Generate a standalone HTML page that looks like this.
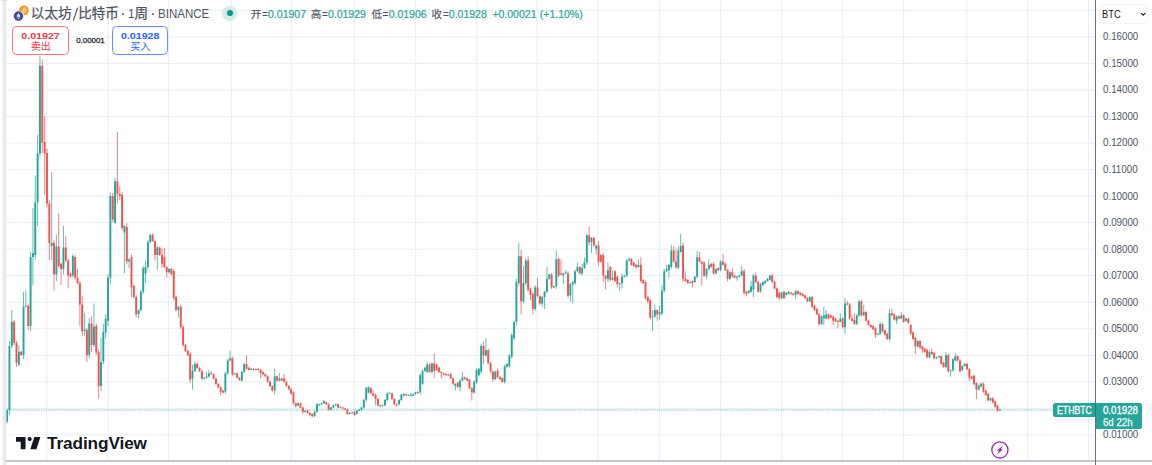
<!DOCTYPE html>
<html lang="zh-CN">
<head>
<meta charset="utf-8">
<title>ETHBTC · 1W · BINANCE — TradingView</title>
<style>
html,body{margin:0;padding:0;background:#fff;overflow:hidden;}
body{width:1152px;height:465px;position:relative;overflow:hidden;font-family:"Liberation Sans","Noto Sans CJK SC",sans-serif;color:#131722;}
#chart{position:absolute;left:0;top:0;}
.abs{position:absolute;white-space:nowrap;}
.cjt{font-family:"Liberation Sans","Noto Sans CJK SC",sans-serif;}
.lborder{left:2.1px;top:0;width:4.6px;height:465px;background:linear-gradient(to right,rgba(234,234,236,0),#eaeaec 28%,#eaeaec 72%,rgba(234,234,236,0));}
.bborder{left:6px;top:459.7px;width:1146px;height:2.8px;background:linear-gradient(to bottom,rgba(172,175,184,0),#acafb8 35%,#acafb8 65%,rgba(172,175,184,0));}
.axisline{left:1095.1px;top:0;width:1.1px;height:465px;background:#6c6f7a;}
.axisbg{left:1096.2px;top:0;width:56px;height:460px;background:#fff;}
.pl{position:absolute;left:1102.6px;font-size:10.4px;line-height:13px;color:#50535e;transform:scaleX(0.94);transform-origin:0 50%;white-space:nowrap;}
.tl{height:16px;line-height:16px;font-size:12.8px;color:#50535e;}
.tl .cjt{display:block;-webkit-text-stroke:0.25px #50535e;}
.lat{transform-origin:0 50%;}
.dot{width:2px;height:2px;border-radius:50%;background:#50535e;}
.ohlc{top:6.7px;height:14px;line-height:14px;font-size:10.5px;color:#50535e;}
.ohlc .cjt{font-size:10.6px;margin-right:0.5px;-webkit-text-stroke:0.15px #50535e;}
.ohlc b{font-weight:normal;color:#26a69a;-webkit-text-stroke:0.2px #26a69a;}
.box{box-sizing:border-box;border:1.2px solid;border-radius:4.5px;background:#fff;text-align:center;}
.box .v{font-weight:bold;font-size:9.6px;line-height:11px;margin-top:2.5px;transform:scaleX(1.11);}
.box .t{margin-top:1.3px;height:10px;font-size:10px;line-height:10px;}
.tag{background:#26a69a;color:#fff;font-size:10.2px;}
</style>
</head>
<body>
<svg id="chart" width="1152" height="465" viewBox="0 0 1152 465">
<g stroke="#e8eef4" stroke-width="1" shape-rendering="auto">
<line x1="46.9" y1="0" x2="46.9" y2="460.5"/>
<line x1="108.2" y1="0" x2="108.2" y2="460.5"/>
<line x1="168.4" y1="0" x2="168.4" y2="460.5"/>
<line x1="231.3" y1="0" x2="231.3" y2="460.5"/>
<line x1="291.3" y1="0" x2="291.3" y2="460.5"/>
<line x1="354.6" y1="0" x2="354.6" y2="460.5"/>
<line x1="415.7" y1="0" x2="415.7" y2="460.5"/>
<line x1="476.8" y1="0" x2="476.8" y2="460.5"/>
<line x1="537.0" y1="0" x2="537.0" y2="460.5"/>
<line x1="598.0" y1="0" x2="598.0" y2="460.5"/>
<line x1="659.3" y1="0" x2="659.3" y2="460.5"/>
<line x1="720.7" y1="0" x2="720.7" y2="460.5"/>
<line x1="781.8" y1="0" x2="781.8" y2="460.5"/>
<line x1="842.7" y1="0" x2="842.7" y2="460.5"/>
<line x1="903.6" y1="0" x2="903.6" y2="460.5"/>
<line x1="966.8" y1="0" x2="966.8" y2="460.5"/>
<line x1="1027.7" y1="0" x2="1027.7" y2="460.5"/>
<line x1="1088.6" y1="0" x2="1088.6" y2="460.5"/>
<line x1="6" y1="434.89" x2="1095" y2="434.89"/>
<line x1="6" y1="408.36" x2="1095" y2="408.36"/>
<line x1="6" y1="381.83" x2="1095" y2="381.83"/>
<line x1="6" y1="355.30" x2="1095" y2="355.30"/>
<line x1="6" y1="328.77" x2="1095" y2="328.77"/>
<line x1="6" y1="302.24" x2="1095" y2="302.24"/>
<line x1="6" y1="275.71" x2="1095" y2="275.71"/>
<line x1="6" y1="249.18" x2="1095" y2="249.18"/>
<line x1="6" y1="222.65" x2="1095" y2="222.65"/>
<line x1="6" y1="196.12" x2="1095" y2="196.12"/>
<line x1="6" y1="169.59" x2="1095" y2="169.59"/>
<line x1="6" y1="143.06" x2="1095" y2="143.06"/>
<line x1="6" y1="116.53" x2="1095" y2="116.53"/>
<line x1="6" y1="90.00" x2="1095" y2="90.00"/>
<line x1="6" y1="63.47" x2="1095" y2="63.47"/>
<line x1="6" y1="36.94" x2="1095" y2="36.94"/>
<line x1="6" y1="10.41" x2="1095" y2="10.41"/>
</g>
<line x1="6" y1="410.00" x2="1053" y2="410.00" stroke="#26a69a" stroke-width="1.2" opacity="0.16"/>
<line x1="6" y1="410.00" x2="1053" y2="410.00" stroke="#26a69a" stroke-width="1.1" stroke-dasharray="1.17 1.17" opacity="0.45"/>
<g stroke-width="0.9" opacity="0.8" fill="none"><path d="M7.10 408.6V423.2" stroke="#26a69a"/><path d="M9.45 340.9V415.1" stroke="#26a69a"/><path d="M11.79 310.0V348.3" stroke="#26a69a"/><path d="M14.14 319.7V345.1" stroke="#ef5350"/><path d="M16.49 341.0V367.0" stroke="#ef5350"/><path d="M18.84 345.4V366.2" stroke="#26a69a"/><path d="M21.18 351.0V355.8" stroke="#ef5350"/><path d="M23.53 292.0V359.0" stroke="#26a69a"/><path d="M25.88 290.6V307.4" stroke="#26a69a"/><path d="M28.22 303.7V330.0" stroke="#ef5350"/><path d="M30.57 251.6V331.4" stroke="#26a69a"/><path d="M32.92 207.8V285.0" stroke="#26a69a"/><path d="M35.26 175.5V259.3" stroke="#26a69a"/><path d="M37.61 134.7V226.0" stroke="#26a69a"/><path d="M39.96 56.1V156.7" stroke="#26a69a"/><path d="M42.30 59.4V153.0" stroke="#ef5350"/><path d="M44.65 116.4V195.0" stroke="#ef5350"/><path d="M47.00 148.9V207.6" stroke="#ef5350"/><path d="M49.35 200.1V260.0" stroke="#ef5350"/><path d="M51.69 172.0V260.0" stroke="#26a69a"/><path d="M54.04 240.2V290.6" stroke="#ef5350"/><path d="M56.39 234.7V281.0" stroke="#26a69a"/><path d="M58.73 213.0V268.0" stroke="#ef5350"/><path d="M61.08 262.7V285.2" stroke="#ef5350"/><path d="M63.43 226.0V274.4" stroke="#26a69a"/><path d="M65.77 236.0V262.0" stroke="#ef5350"/><path d="M68.12 258.9V288.4" stroke="#ef5350"/><path d="M70.47 272.6V277.4" stroke="#ef5350"/><path d="M72.82 254.0V277.5" stroke="#26a69a"/><path d="M75.16 255.0V279.7" stroke="#ef5350"/><path d="M77.51 269.0V284.0" stroke="#ef5350"/><path d="M79.86 280.9V326.0" stroke="#ef5350"/><path d="M82.20 296.0V336.4" stroke="#ef5350"/><path d="M84.55 312.7V335.8" stroke="#26a69a"/><path d="M86.90 327.6V362.0" stroke="#ef5350"/><path d="M89.24 318.0V358.4" stroke="#26a69a"/><path d="M91.59 316.0V352.0" stroke="#ef5350"/><path d="M93.94 303.5V346.9" stroke="#26a69a"/><path d="M96.29 323.5V355.0" stroke="#ef5350"/><path d="M98.63 349.0V399.2" stroke="#ef5350"/><path d="M100.98 338.0V391.0" stroke="#26a69a"/><path d="M103.33 324.0V364.2" stroke="#26a69a"/><path d="M105.67 314.3V338.5" stroke="#26a69a"/><path d="M108.02 274.1V326.0" stroke="#26a69a"/><path d="M110.37 192.7V284.0" stroke="#26a69a"/><path d="M112.71 193.0V222.0" stroke="#ef5350"/><path d="M115.06 177.8V224.0" stroke="#26a69a"/><path d="M117.41 132.0V203.5" stroke="#ef5350"/><path d="M119.76 186.0V200.0" stroke="#ef5350"/><path d="M122.10 192.1V230.9" stroke="#ef5350"/><path d="M124.45 224.9V273.4" stroke="#26a69a"/><path d="M126.80 222.9V264.5" stroke="#ef5350"/><path d="M129.14 258.7V268.0" stroke="#26a69a"/><path d="M131.49 254.3V297.0" stroke="#ef5350"/><path d="M133.84 284.6V298.4" stroke="#ef5350"/><path d="M136.19 295.2V317.5" stroke="#ef5350"/><path d="M138.53 309.1V318.6" stroke="#26a69a"/><path d="M140.88 289.8V311.9" stroke="#26a69a"/><path d="M143.23 265.7V294.0" stroke="#26a69a"/><path d="M145.57 260.5V283.0" stroke="#26a69a"/><path d="M147.92 239.9V269.3" stroke="#26a69a"/><path d="M150.27 233.6V243.3" stroke="#26a69a"/><path d="M152.61 233.6V242.0" stroke="#ef5350"/><path d="M154.96 239.4V260.5" stroke="#ef5350"/><path d="M157.31 246.0V270.0" stroke="#26a69a"/><path d="M159.66 246.4V256.1" stroke="#ef5350"/><path d="M162.00 248.6V268.0" stroke="#ef5350"/><path d="M164.35 248.0V268.3" stroke="#ef5350"/><path d="M166.70 266.0V277.7" stroke="#ef5350"/><path d="M169.04 268.2V273.1" stroke="#26a69a"/><path d="M171.39 268.0V275.4" stroke="#ef5350"/><path d="M173.74 268.5V300.5" stroke="#ef5350"/><path d="M176.08 295.5V311.5" stroke="#ef5350"/><path d="M178.43 305.9V317.5" stroke="#26a69a"/><path d="M180.78 304.7V329.0" stroke="#ef5350"/><path d="M183.12 325.1V346.9" stroke="#ef5350"/><path d="M185.47 344.0V352.0" stroke="#ef5350"/><path d="M187.82 349.9V355.9" stroke="#ef5350"/><path d="M190.17 351.6V383.0" stroke="#ef5350"/><path d="M192.51 365.0V389.5" stroke="#26a69a"/><path d="M194.86 361.5V372.1" stroke="#26a69a"/><path d="M197.21 362.8V368.9" stroke="#ef5350"/><path d="M199.55 367.2V372.0" stroke="#ef5350"/><path d="M201.90 370.1V379.8" stroke="#ef5350"/><path d="M204.25 377.0V379.4" stroke="#26a69a"/><path d="M206.59 372.0V378.4" stroke="#26a69a"/><path d="M208.94 370.0V377.4" stroke="#26a69a"/><path d="M211.29 371.0V375.1" stroke="#ef5350"/><path d="M213.64 373.5V379.6" stroke="#ef5350"/><path d="M215.98 377.7V385.0" stroke="#ef5350"/><path d="M218.33 383.2V388.2" stroke="#ef5350"/><path d="M220.68 386.5V395.5" stroke="#ef5350"/><path d="M223.02 389.9V393.4" stroke="#ef5350"/><path d="M225.37 371.5V393.6" stroke="#26a69a"/><path d="M227.72 359.0V374.9" stroke="#26a69a"/><path d="M230.06 350.8V361.3" stroke="#26a69a"/><path d="M232.41 356.6V376.1" stroke="#ef5350"/><path d="M234.76 372.7V375.1" stroke="#26a69a"/><path d="M237.11 372.5V378.6" stroke="#ef5350"/><path d="M239.45 377.0V381.0" stroke="#ef5350"/><path d="M241.80 370.8V381.8" stroke="#26a69a"/><path d="M244.15 362.9V373.1" stroke="#26a69a"/><path d="M246.49 355.4V369.7" stroke="#ef5350"/><path d="M248.84 366.9V370.6" stroke="#ef5350"/><path d="M251.19 368.1V370.5" stroke="#26a69a"/><path d="M253.53 368.1V370.5" stroke="#ef5350"/><path d="M255.88 368.5V370.5" stroke="#26a69a"/><path d="M258.23 368.1V370.5" stroke="#ef5350"/><path d="M260.58 369.0V378.4" stroke="#ef5350"/><path d="M262.92 371.2V374.9" stroke="#ef5350"/><path d="M265.27 373.4V377.0" stroke="#ef5350"/><path d="M267.62 375.3V382.6" stroke="#ef5350"/><path d="M269.96 380.8V386.9" stroke="#ef5350"/><path d="M272.31 385.1V392.4" stroke="#ef5350"/><path d="M274.66 368.8V394.6" stroke="#26a69a"/><path d="M277.00 375.4V381.5" stroke="#ef5350"/><path d="M279.35 373.1V381.3" stroke="#26a69a"/><path d="M281.70 377.7V381.3" stroke="#ef5350"/><path d="M284.05 374.1V382.5" stroke="#ef5350"/><path d="M286.39 380.8V386.9" stroke="#ef5350"/><path d="M288.74 385.1V390.0" stroke="#ef5350"/><path d="M291.09 388.3V394.4" stroke="#ef5350"/><path d="M293.43 391.1V404.6" stroke="#ef5350"/><path d="M295.78 402.4V407.3" stroke="#ef5350"/><path d="M298.13 402.4V406.1" stroke="#26a69a"/><path d="M300.48 402.3V408.4" stroke="#ef5350"/><path d="M302.82 406.6V414.2" stroke="#ef5350"/><path d="M305.17 410.1V412.5" stroke="#26a69a"/><path d="M307.52 410.0V413.6" stroke="#ef5350"/><path d="M309.86 412.1V415.8" stroke="#ef5350"/><path d="M312.21 413.2V417.8" stroke="#ef5350"/><path d="M314.56 410.9V417.0" stroke="#26a69a"/><path d="M316.90 403.1V412.9" stroke="#26a69a"/><path d="M319.25 403.6V406.0" stroke="#26a69a"/><path d="M321.60 402.5V404.9" stroke="#26a69a"/><path d="M323.94 400.0V403.9" stroke="#26a69a"/><path d="M326.29 401.4V405.0" stroke="#ef5350"/><path d="M328.64 403.3V410.6" stroke="#ef5350"/><path d="M330.99 406.8V410.4" stroke="#26a69a"/><path d="M333.33 404.6V408.3" stroke="#26a69a"/><path d="M335.68 403.6V406.0" stroke="#26a69a"/><path d="M338.03 403.4V408.3" stroke="#ef5350"/><path d="M340.37 406.4V408.1" stroke="#26a69a"/><path d="M342.72 406.8V409.3" stroke="#ef5350"/><path d="M345.07 407.9V410.3" stroke="#ef5350"/><path d="M347.42 408.8V414.9" stroke="#ef5350"/><path d="M349.76 412.2V414.6" stroke="#26a69a"/><path d="M352.11 411.8V413.5" stroke="#26a69a"/><path d="M354.46 411.0V415.9" stroke="#ef5350"/><path d="M356.80 409.9V414.8" stroke="#26a69a"/><path d="M359.15 409.0V411.4" stroke="#26a69a"/><path d="M361.50 406.8V410.4" stroke="#26a69a"/><path d="M363.84 398.8V408.6" stroke="#26a69a"/><path d="M366.19 386.7V401.4" stroke="#26a69a"/><path d="M368.54 386.4V393.4" stroke="#26a69a"/><path d="M370.88 387.2V394.5" stroke="#ef5350"/><path d="M373.23 390.3V396.4" stroke="#ef5350"/><path d="M375.58 393.7V405.3" stroke="#ef5350"/><path d="M377.93 397.8V406.4" stroke="#ef5350"/><path d="M380.27 404.7V407.1" stroke="#26a69a"/><path d="M382.62 404.7V406.4" stroke="#ef5350"/><path d="M384.97 399.0V406.3" stroke="#26a69a"/><path d="M387.31 392.5V401.0" stroke="#26a69a"/><path d="M389.66 392.4V394.1" stroke="#26a69a"/><path d="M392.01 392.5V399.9" stroke="#ef5350"/><path d="M394.36 397.9V405.3" stroke="#ef5350"/><path d="M396.70 403.6V406.4" stroke="#ef5350"/><path d="M399.05 399.1V405.2" stroke="#26a69a"/><path d="M401.40 393.5V400.9" stroke="#26a69a"/><path d="M403.74 393.4V396.4" stroke="#26a69a"/><path d="M406.09 393.5V395.9" stroke="#ef5350"/><path d="M408.44 394.6V396.3" stroke="#26a69a"/><path d="M410.78 392.9V396.3" stroke="#26a69a"/><path d="M413.13 393.4V396.4" stroke="#26a69a"/><path d="M415.48 391.7V394.9" stroke="#26a69a"/><path d="M417.83 391.3V393.5" stroke="#ef5350"/><path d="M420.17 373.4V394.2" stroke="#26a69a"/><path d="M422.52 369.4V384.9" stroke="#26a69a"/><path d="M424.87 366.8V371.7" stroke="#26a69a"/><path d="M427.21 361.9V373.1" stroke="#26a69a"/><path d="M429.56 363.3V373.1" stroke="#ef5350"/><path d="M431.91 362.2V373.2" stroke="#26a69a"/><path d="M434.25 353.3V377.8" stroke="#ef5350"/><path d="M436.60 363.5V370.8" stroke="#ef5350"/><path d="M438.95 366.8V372.9" stroke="#ef5350"/><path d="M441.30 371.3V378.4" stroke="#ef5350"/><path d="M443.64 372.4V375.3" stroke="#ef5350"/><path d="M445.99 373.5V375.9" stroke="#ef5350"/><path d="M448.34 373.9V375.9" stroke="#26a69a"/><path d="M450.68 373.2V379.3" stroke="#ef5350"/><path d="M453.03 377.5V384.8" stroke="#ef5350"/><path d="M455.38 383.1V390.3" stroke="#26a69a"/><path d="M457.72 381.8V388.0" stroke="#ef5350"/><path d="M460.07 379.5V391.4" stroke="#26a69a"/><path d="M462.42 372.0V381.4" stroke="#26a69a"/><path d="M464.77 376.6V379.8" stroke="#ef5350"/><path d="M467.11 377.7V381.3" stroke="#ef5350"/><path d="M469.46 378.8V389.3" stroke="#ef5350"/><path d="M471.81 387.2V400.6" stroke="#ef5350"/><path d="M474.15 380.3V393.8" stroke="#26a69a"/><path d="M476.50 368.3V384.2" stroke="#26a69a"/><path d="M478.85 367.7V376.3" stroke="#26a69a"/><path d="M481.19 343.4V374.1" stroke="#26a69a"/><path d="M483.54 341.5V364.1" stroke="#ef5350"/><path d="M485.89 338.3V356.5" stroke="#26a69a"/><path d="M488.24 348.6V364.6" stroke="#ef5350"/><path d="M490.58 361.9V372.9" stroke="#ef5350"/><path d="M492.93 370.5V381.4" stroke="#ef5350"/><path d="M495.28 370.5V380.3" stroke="#26a69a"/><path d="M497.62 368.4V378.1" stroke="#ef5350"/><path d="M499.97 376.3V380.0" stroke="#ef5350"/><path d="M502.32 377.3V382.9" stroke="#ef5350"/><path d="M504.66 364.6V383.7" stroke="#26a69a"/><path d="M507.01 363.3V367.7" stroke="#26a69a"/><path d="M509.36 354.2V367.6" stroke="#26a69a"/><path d="M511.71 333.0V358.7" stroke="#26a69a"/><path d="M514.05 320.4V340.0" stroke="#26a69a"/><path d="M516.40 278.7V325.3" stroke="#26a69a"/><path d="M518.75 243.3V285.6" stroke="#26a69a"/><path d="M521.09 249.8V314.3" stroke="#ef5350"/><path d="M523.44 265.9V303.3" stroke="#26a69a"/><path d="M525.79 258.3V285.3" stroke="#26a69a"/><path d="M528.13 256.2V292.2" stroke="#ef5350"/><path d="M530.48 287.5V300.3" stroke="#ef5350"/><path d="M532.83 292.2V314.3" stroke="#ef5350"/><path d="M535.18 285.3V311.1" stroke="#26a69a"/><path d="M537.52 277.7V297.2" stroke="#ef5350"/><path d="M539.87 294.9V304.7" stroke="#ef5350"/><path d="M542.22 296.1V306.8" stroke="#26a69a"/><path d="M544.56 290.8V309.0" stroke="#26a69a"/><path d="M546.91 267.0V293.2" stroke="#26a69a"/><path d="M549.26 273.6V279.7" stroke="#26a69a"/><path d="M551.60 273.0V288.9" stroke="#ef5350"/><path d="M553.95 285.7V288.1" stroke="#26a69a"/><path d="M556.30 250.4V288.9" stroke="#26a69a"/><path d="M558.64 257.3V277.4" stroke="#ef5350"/><path d="M560.99 259.4V275.2" stroke="#ef5350"/><path d="M563.34 272.7V284.2" stroke="#26a69a"/><path d="M565.69 270.2V274.1" stroke="#26a69a"/><path d="M568.03 271.3V297.8" stroke="#ef5350"/><path d="M570.38 282.8V301.4" stroke="#26a69a"/><path d="M572.73 281.3V303.6" stroke="#26a69a"/><path d="M575.07 269.9V284.6" stroke="#26a69a"/><path d="M577.42 262.7V272.2" stroke="#26a69a"/><path d="M579.77 265.9V274.5" stroke="#ef5350"/><path d="M582.12 263.8V275.6" stroke="#26a69a"/><path d="M584.46 257.3V269.0" stroke="#26a69a"/><path d="M586.81 233.2V265.2" stroke="#26a69a"/><path d="M589.16 226.7V245.5" stroke="#ef5350"/><path d="M591.50 237.0V253.0" stroke="#26a69a"/><path d="M593.85 236.8V246.6" stroke="#ef5350"/><path d="M596.20 244.6V254.1" stroke="#26a69a"/><path d="M598.54 241.1V265.9" stroke="#ef5350"/><path d="M600.89 254.1V262.7" stroke="#ef5350"/><path d="M603.24 253.1V282.1" stroke="#ef5350"/><path d="M605.59 274.8V289.6" stroke="#ef5350"/><path d="M607.93 262.7V282.1" stroke="#26a69a"/><path d="M610.28 265.5V281.4" stroke="#ef5350"/><path d="M612.63 270.2V280.6" stroke="#26a69a"/><path d="M614.97 270.0V282.3" stroke="#ef5350"/><path d="M617.32 275.5V287.4" stroke="#ef5350"/><path d="M619.67 282.5V290.7" stroke="#26a69a"/><path d="M622.01 273.4V288.5" stroke="#26a69a"/><path d="M624.36 274.9V277.3" stroke="#26a69a"/><path d="M626.71 258.9V277.2" stroke="#26a69a"/><path d="M629.06 257.3V261.2" stroke="#26a69a"/><path d="M631.40 258.0V265.8" stroke="#ef5350"/><path d="M633.75 261.8V266.7" stroke="#ef5350"/><path d="M636.10 264.1V269.1" stroke="#ef5350"/><path d="M638.44 259.4V267.7" stroke="#26a69a"/><path d="M640.79 257.3V282.7" stroke="#ef5350"/><path d="M643.14 279.1V284.0" stroke="#ef5350"/><path d="M645.48 280.3V299.9" stroke="#ef5350"/><path d="M647.83 296.2V303.6" stroke="#ef5350"/><path d="M650.18 298.5V319.7" stroke="#ef5350"/><path d="M652.52 310.0V330.9" stroke="#26a69a"/><path d="M654.87 304.7V317.5" stroke="#26a69a"/><path d="M657.22 309.1V320.8" stroke="#ef5350"/><path d="M659.57 305.7V319.7" stroke="#26a69a"/><path d="M661.91 285.3V315.4" stroke="#26a69a"/><path d="M664.26 269.1V292.6" stroke="#26a69a"/><path d="M666.61 264.8V272.0" stroke="#26a69a"/><path d="M668.95 263.9V277.7" stroke="#26a69a"/><path d="M671.30 244.8V268.7" stroke="#26a69a"/><path d="M673.65 246.1V263.0" stroke="#ef5350"/><path d="M676.00 248.7V268.6" stroke="#ef5350"/><path d="M678.34 246.5V269.4" stroke="#26a69a"/><path d="M680.69 234.0V252.9" stroke="#26a69a"/><path d="M683.04 242.5V281.8" stroke="#ef5350"/><path d="M685.38 271.3V281.7" stroke="#ef5350"/><path d="M687.73 279.1V284.0" stroke="#ef5350"/><path d="M690.08 281.6V283.8" stroke="#26a69a"/><path d="M692.42 280.2V287.4" stroke="#ef5350"/><path d="M694.77 275.7V283.0" stroke="#26a69a"/><path d="M697.12 250.8V278.6" stroke="#26a69a"/><path d="M699.47 251.9V262.5" stroke="#ef5350"/><path d="M701.81 260.8V285.3" stroke="#ef5350"/><path d="M704.16 261.2V277.1" stroke="#ef5350"/><path d="M706.51 268.1V278.8" stroke="#26a69a"/><path d="M708.85 259.4V270.0" stroke="#26a69a"/><path d="M711.20 262.9V267.8" stroke="#ef5350"/><path d="M713.55 262.5V274.7" stroke="#ef5350"/><path d="M715.89 268.2V274.3" stroke="#26a69a"/><path d="M718.24 267.3V271.0" stroke="#ef5350"/><path d="M720.59 260.3V271.3" stroke="#26a69a"/><path d="M722.94 254.0V265.6" stroke="#ef5350"/><path d="M725.28 262.6V271.2" stroke="#ef5350"/><path d="M727.63 268.9V281.3" stroke="#ef5350"/><path d="M729.98 271.2V279.8" stroke="#26a69a"/><path d="M732.32 268.0V277.5" stroke="#ef5350"/><path d="M734.67 274.8V278.4" stroke="#ef5350"/><path d="M737.02 275.9V280.9" stroke="#26a69a"/><path d="M739.36 274.8V277.3" stroke="#26a69a"/><path d="M741.71 265.8V276.4" stroke="#26a69a"/><path d="M744.06 269.1V294.9" stroke="#ef5350"/><path d="M746.40 290.9V296.0" stroke="#ef5350"/><path d="M748.75 289.8V293.5" stroke="#26a69a"/><path d="M751.10 280.9V292.6" stroke="#26a69a"/><path d="M753.45 273.9V297.1" stroke="#26a69a"/><path d="M755.79 272.3V283.0" stroke="#ef5350"/><path d="M758.14 280.7V292.9" stroke="#ef5350"/><path d="M760.49 283.0V292.8" stroke="#26a69a"/><path d="M762.83 281.2V286.0" stroke="#26a69a"/><path d="M765.18 280.2V283.8" stroke="#26a69a"/><path d="M767.53 278.0V281.7" stroke="#26a69a"/><path d="M769.88 274.6V280.7" stroke="#26a69a"/><path d="M772.22 273.4V283.0" stroke="#ef5350"/><path d="M774.57 280.9V289.5" stroke="#ef5350"/><path d="M776.92 287.2V298.3" stroke="#ef5350"/><path d="M779.26 291.8V300.3" stroke="#ef5350"/><path d="M781.61 291.8V299.1" stroke="#26a69a"/><path d="M783.96 290.6V299.2" stroke="#ef5350"/><path d="M786.30 292.0V295.6" stroke="#26a69a"/><path d="M788.65 290.9V294.6" stroke="#26a69a"/><path d="M791.00 292.1V294.5" stroke="#ef5350"/><path d="M793.35 292.7V295.6" stroke="#ef5350"/><path d="M795.69 289.5V299.2" stroke="#26a69a"/><path d="M798.04 290.5V294.6" stroke="#ef5350"/><path d="M800.39 292.0V295.6" stroke="#ef5350"/><path d="M802.73 293.1V296.7" stroke="#ef5350"/><path d="M805.08 294.8V298.9" stroke="#ef5350"/><path d="M807.43 297.3V302.2" stroke="#ef5350"/><path d="M809.77 296.1V302.3" stroke="#26a69a"/><path d="M812.12 295.8V308.0" stroke="#ef5350"/><path d="M814.47 304.8V310.9" stroke="#ef5350"/><path d="M816.82 307.9V315.3" stroke="#ef5350"/><path d="M819.16 313.0V325.7" stroke="#ef5350"/><path d="M821.51 315.3V325.0" stroke="#26a69a"/><path d="M823.86 306.7V325.0" stroke="#26a69a"/><path d="M826.20 310.0V319.5" stroke="#26a69a"/><path d="M828.55 313.4V319.5" stroke="#ef5350"/><path d="M830.90 314.6V318.3" stroke="#ef5350"/><path d="M833.24 315.5V325.0" stroke="#ef5350"/><path d="M835.59 317.8V322.2" stroke="#ef5350"/><path d="M837.94 320.1V328.3" stroke="#ef5350"/><path d="M840.28 313.2V322.6" stroke="#26a69a"/><path d="M842.63 317.4V328.4" stroke="#ef5350"/><path d="M844.98 298.1V333.6" stroke="#26a69a"/><path d="M847.33 300.7V305.3" stroke="#ef5350"/><path d="M849.67 303.0V320.2" stroke="#ef5350"/><path d="M852.02 314.3V321.5" stroke="#ef5350"/><path d="M854.37 313.2V324.9" stroke="#ef5350"/><path d="M856.71 314.1V325.2" stroke="#26a69a"/><path d="M859.06 299.8V316.9" stroke="#26a69a"/><path d="M861.41 299.8V316.9" stroke="#ef5350"/><path d="M863.75 304.6V316.2" stroke="#26a69a"/><path d="M866.10 310.9V321.9" stroke="#ef5350"/><path d="M868.45 319.8V325.9" stroke="#ef5350"/><path d="M870.80 324.3V327.9" stroke="#ef5350"/><path d="M873.14 325.3V330.2" stroke="#ef5350"/><path d="M875.49 327.2V338.0" stroke="#ef5350"/><path d="M877.84 333.0V335.4" stroke="#26a69a"/><path d="M880.18 321.8V334.9" stroke="#26a69a"/><path d="M882.53 322.8V332.6" stroke="#ef5350"/><path d="M884.88 329.5V335.6" stroke="#ef5350"/><path d="M887.23 332.7V340.0" stroke="#ef5350"/><path d="M889.57 308.9V341.4" stroke="#26a69a"/><path d="M891.92 308.9V316.1" stroke="#ef5350"/><path d="M894.27 313.3V320.6" stroke="#ef5350"/><path d="M896.61 315.5V324.0" stroke="#26a69a"/><path d="M898.96 315.7V319.3" stroke="#ef5350"/><path d="M901.31 312.1V319.4" stroke="#26a69a"/><path d="M903.65 314.3V322.9" stroke="#ef5350"/><path d="M906.00 317.8V321.5" stroke="#26a69a"/><path d="M908.35 317.7V323.8" stroke="#ef5350"/><path d="M910.70 323.8V334.8" stroke="#ef5350"/><path d="M913.04 331.5V340.0" stroke="#ef5350"/><path d="M915.39 336.7V354.1" stroke="#ef5350"/><path d="M917.74 340.2V347.5" stroke="#26a69a"/><path d="M920.08 340.1V348.7" stroke="#ef5350"/><path d="M922.43 345.7V353.0" stroke="#ef5350"/><path d="M924.78 347.9V352.7" stroke="#ef5350"/><path d="M927.12 348.6V358.4" stroke="#ef5350"/><path d="M929.47 350.9V358.3" stroke="#26a69a"/><path d="M931.82 348.7V354.8" stroke="#ef5350"/><path d="M934.16 352.0V359.3" stroke="#ef5350"/><path d="M936.51 356.6V359.0" stroke="#26a69a"/><path d="M938.86 355.5V358.0" stroke="#26a69a"/><path d="M941.21 355.1V364.9" stroke="#ef5350"/><path d="M943.55 361.8V367.9" stroke="#ef5350"/><path d="M945.90 351.9V368.4" stroke="#26a69a"/><path d="M948.25 353.4V373.0" stroke="#ef5350"/><path d="M950.59 369.5V376.7" stroke="#26a69a"/><path d="M952.94 358.1V371.6" stroke="#26a69a"/><path d="M955.29 353.0V361.4" stroke="#26a69a"/><path d="M957.63 355.3V361.4" stroke="#ef5350"/><path d="M959.98 359.2V372.6" stroke="#ef5350"/><path d="M962.33 365.0V371.1" stroke="#26a69a"/><path d="M964.68 363.0V366.7" stroke="#26a69a"/><path d="M967.02 362.8V370.1" stroke="#ef5350"/><path d="M969.37 367.9V381.0" stroke="#ef5350"/><path d="M971.72 375.9V379.6" stroke="#ef5350"/><path d="M974.06 374.5V385.4" stroke="#ef5350"/><path d="M976.41 382.1V399.3" stroke="#ef5350"/><path d="M978.76 384.4V390.5" stroke="#26a69a"/><path d="M981.11 382.8V387.2" stroke="#26a69a"/><path d="M983.45 382.4V392.9" stroke="#ef5350"/><path d="M985.80 389.8V395.9" stroke="#ef5350"/><path d="M988.15 392.8V401.4" stroke="#ef5350"/><path d="M990.49 397.4V401.1" stroke="#26a69a"/><path d="M992.84 397.3V403.4" stroke="#ef5350"/><path d="M995.19 400.4V407.8" stroke="#ef5350"/><path d="M997.53 404.8V411.6" stroke="#ef5350"/><path d="M999.88 409.2V411.0" stroke="#26a69a"/></g>
<g><rect x="6.15" y="410.0" width="1.9" height="11.8" fill="#26a69a"/><rect x="8.50" y="346.0" width="1.9" height="64.0" fill="#26a69a"/><rect x="10.84" y="321.8" width="1.9" height="24.2" fill="#26a69a"/><rect x="13.19" y="321.8" width="1.9" height="21.2" fill="#ef5350"/><rect x="15.54" y="343.0" width="1.9" height="19.6" fill="#ef5350"/><rect x="17.89" y="351.8" width="1.9" height="12.9" fill="#26a69a"/><rect x="20.23" y="351.8" width="1.9" height="3.2" fill="#ef5350"/><rect x="22.58" y="306.7" width="1.9" height="48.3" fill="#26a69a"/><rect x="24.93" y="305.7" width="1.9" height="1.0" fill="#26a69a"/><rect x="27.27" y="305.7" width="1.9" height="20.3" fill="#ef5350"/><rect x="29.62" y="257.0" width="1.9" height="69.0" fill="#26a69a"/><rect x="31.97" y="253.0" width="1.9" height="4.0" fill="#26a69a"/><rect x="34.31" y="202.4" width="1.9" height="52.6" fill="#26a69a"/><rect x="36.66" y="153.5" width="1.9" height="48.9" fill="#26a69a"/><rect x="39.01" y="65.8" width="1.9" height="87.7" fill="#26a69a"/><rect x="41.35" y="65.8" width="1.9" height="76.9" fill="#ef5350"/><rect x="43.70" y="142.0" width="1.9" height="11.5" fill="#ef5350"/><rect x="46.05" y="153.0" width="1.9" height="50.5" fill="#ef5350"/><rect x="48.40" y="203.5" width="1.9" height="39.5" fill="#ef5350"/><rect x="50.74" y="243.0" width="1.9" height="3.0" fill="#26a69a"/><rect x="53.09" y="243.0" width="1.9" height="31.4" fill="#ef5350"/><rect x="55.44" y="246.5" width="1.9" height="27.9" fill="#26a69a"/><rect x="57.78" y="246.5" width="1.9" height="19.5" fill="#ef5350"/><rect x="60.13" y="263.7" width="1.9" height="5.3" fill="#ef5350"/><rect x="62.48" y="247.5" width="1.9" height="21.5" fill="#26a69a"/><rect x="64.82" y="247.5" width="1.9" height="13.0" fill="#ef5350"/><rect x="67.17" y="260.5" width="1.9" height="15.0" fill="#ef5350"/><rect x="69.52" y="273.4" width="1.9" height="3.2" fill="#ef5350"/><rect x="71.87" y="256.0" width="1.9" height="19.5" fill="#26a69a"/><rect x="74.21" y="257.0" width="1.9" height="20.7" fill="#ef5350"/><rect x="76.56" y="277.7" width="1.9" height="5.3" fill="#ef5350"/><rect x="78.91" y="283.0" width="1.9" height="21.6" fill="#ef5350"/><rect x="81.25" y="304.6" width="1.9" height="26.9" fill="#ef5350"/><rect x="83.60" y="329.4" width="1.9" height="1.6" fill="#26a69a"/><rect x="85.95" y="330.0" width="1.9" height="25.2" fill="#ef5350"/><rect x="88.29" y="323.5" width="1.9" height="31.2" fill="#26a69a"/><rect x="90.64" y="323.5" width="1.9" height="21.5" fill="#ef5350"/><rect x="92.99" y="326.7" width="1.9" height="18.3" fill="#26a69a"/><rect x="95.34" y="326.0" width="1.9" height="26.5" fill="#ef5350"/><rect x="97.68" y="352.0" width="1.9" height="34.3" fill="#ef5350"/><rect x="100.03" y="362.0" width="1.9" height="24.0" fill="#26a69a"/><rect x="102.38" y="332.0" width="1.9" height="29.5" fill="#26a69a"/><rect x="104.72" y="319.0" width="1.9" height="13.6" fill="#26a69a"/><rect x="107.07" y="277.7" width="1.9" height="43.0" fill="#26a69a"/><rect x="109.42" y="196.0" width="1.9" height="81.7" fill="#26a69a"/><rect x="111.76" y="196.0" width="1.9" height="23.7" fill="#ef5350"/><rect x="114.11" y="181.3" width="1.9" height="41.6" fill="#26a69a"/><rect x="116.46" y="181.3" width="1.9" height="12.5" fill="#ef5350"/><rect x="118.81" y="193.8" width="1.9" height="2.2" fill="#ef5350"/><rect x="121.15" y="195.0" width="1.9" height="33.0" fill="#ef5350"/><rect x="123.50" y="226.0" width="1.9" height="6.6" fill="#26a69a"/><rect x="125.85" y="227.0" width="1.9" height="34.5" fill="#ef5350"/><rect x="128.19" y="259.4" width="1.9" height="2.1" fill="#26a69a"/><rect x="130.54" y="257.0" width="1.9" height="30.4" fill="#ef5350"/><rect x="132.89" y="286.0" width="1.9" height="11.0" fill="#ef5350"/><rect x="135.24" y="297.0" width="1.9" height="17.3" fill="#ef5350"/><rect x="137.58" y="310.0" width="1.9" height="4.3" fill="#26a69a"/><rect x="139.93" y="291.7" width="1.9" height="18.3" fill="#26a69a"/><rect x="142.28" y="268.0" width="1.9" height="23.7" fill="#26a69a"/><rect x="144.62" y="267.0" width="1.9" height="6.4" fill="#26a69a"/><rect x="146.97" y="242.2" width="1.9" height="24.8" fill="#26a69a"/><rect x="149.32" y="234.7" width="1.9" height="7.5" fill="#26a69a"/><rect x="151.66" y="234.7" width="1.9" height="6.3" fill="#ef5350"/><rect x="154.01" y="241.0" width="1.9" height="14.0" fill="#ef5350"/><rect x="156.36" y="247.5" width="1.9" height="7.5" fill="#26a69a"/><rect x="158.71" y="247.5" width="1.9" height="7.5" fill="#ef5350"/><rect x="161.05" y="255.0" width="1.9" height="8.7" fill="#ef5350"/><rect x="163.40" y="257.0" width="1.9" height="10.0" fill="#ef5350"/><rect x="165.75" y="267.0" width="1.9" height="5.3" fill="#ef5350"/><rect x="168.09" y="269.0" width="1.9" height="3.3" fill="#26a69a"/><rect x="170.44" y="269.0" width="1.9" height="5.4" fill="#ef5350"/><rect x="172.79" y="271.0" width="1.9" height="27.0" fill="#ef5350"/><rect x="175.13" y="297.0" width="1.9" height="13.0" fill="#ef5350"/><rect x="177.48" y="306.7" width="1.9" height="3.3" fill="#26a69a"/><rect x="179.83" y="306.7" width="1.9" height="20.3" fill="#ef5350"/><rect x="182.18" y="327.0" width="1.9" height="18.0" fill="#ef5350"/><rect x="184.52" y="345.0" width="1.9" height="6.0" fill="#ef5350"/><rect x="186.87" y="350.8" width="1.9" height="4.2" fill="#ef5350"/><rect x="189.22" y="354.0" width="1.9" height="25.8" fill="#ef5350"/><rect x="191.56" y="371.0" width="1.9" height="7.7" fill="#26a69a"/><rect x="193.91" y="363.7" width="1.9" height="7.3" fill="#26a69a"/><rect x="196.26" y="363.7" width="1.9" height="4.3" fill="#ef5350"/><rect x="198.60" y="368.0" width="1.9" height="3.2" fill="#ef5350"/><rect x="200.95" y="371.2" width="1.9" height="7.5" fill="#ef5350"/><rect x="203.30" y="377.7" width="1.9" height="1.0" fill="#26a69a"/><rect x="205.65" y="376.6" width="1.9" height="1.1" fill="#26a69a"/><rect x="207.99" y="373.4" width="1.9" height="3.2" fill="#26a69a"/><rect x="210.34" y="373.4" width="1.9" height="1.0" fill="#ef5350"/><rect x="212.69" y="374.4" width="1.9" height="4.3" fill="#ef5350"/><rect x="215.03" y="378.7" width="1.9" height="5.3" fill="#ef5350"/><rect x="217.38" y="384.0" width="1.9" height="3.4" fill="#ef5350"/><rect x="219.73" y="387.4" width="1.9" height="4.3" fill="#ef5350"/><rect x="222.07" y="390.6" width="1.9" height="2.1" fill="#ef5350"/><rect x="224.42" y="373.4" width="1.9" height="18.3" fill="#26a69a"/><rect x="226.77" y="360.5" width="1.9" height="12.9" fill="#26a69a"/><rect x="229.12" y="358.3" width="1.9" height="2.2" fill="#26a69a"/><rect x="231.46" y="358.3" width="1.9" height="16.1" fill="#ef5350"/><rect x="233.81" y="373.4" width="1.9" height="1.0" fill="#26a69a"/><rect x="236.16" y="373.4" width="1.9" height="4.3" fill="#ef5350"/><rect x="238.50" y="377.7" width="1.9" height="2.1" fill="#ef5350"/><rect x="240.85" y="372.0" width="1.9" height="8.6" fill="#26a69a"/><rect x="243.20" y="364.0" width="1.9" height="8.0" fill="#26a69a"/><rect x="245.54" y="364.0" width="1.9" height="4.7" fill="#ef5350"/><rect x="247.89" y="367.7" width="1.9" height="2.2" fill="#ef5350"/><rect x="250.24" y="368.8" width="1.9" height="1.1" fill="#26a69a"/><rect x="252.59" y="368.8" width="1.9" height="1.1" fill="#ef5350"/><rect x="254.93" y="369.1" width="1.9" height="0.9" fill="#26a69a"/><rect x="257.28" y="368.8" width="1.9" height="1.1" fill="#ef5350"/><rect x="259.63" y="369.8" width="1.9" height="3.2" fill="#ef5350"/><rect x="261.97" y="372.0" width="1.9" height="2.2" fill="#ef5350"/><rect x="264.32" y="374.1" width="1.9" height="2.2" fill="#ef5350"/><rect x="266.67" y="376.3" width="1.9" height="5.4" fill="#ef5350"/><rect x="269.01" y="381.7" width="1.9" height="4.3" fill="#ef5350"/><rect x="271.36" y="386.0" width="1.9" height="4.3" fill="#ef5350"/><rect x="273.71" y="376.3" width="1.9" height="14.0" fill="#26a69a"/><rect x="276.06" y="376.3" width="1.9" height="4.3" fill="#ef5350"/><rect x="278.40" y="378.4" width="1.9" height="2.2" fill="#26a69a"/><rect x="280.75" y="378.4" width="1.9" height="2.2" fill="#ef5350"/><rect x="283.10" y="378.4" width="1.9" height="3.2" fill="#ef5350"/><rect x="285.44" y="381.7" width="1.9" height="4.3" fill="#ef5350"/><rect x="287.79" y="386.0" width="1.9" height="3.2" fill="#ef5350"/><rect x="290.14" y="389.2" width="1.9" height="4.3" fill="#ef5350"/><rect x="292.48" y="392.4" width="1.9" height="10.8" fill="#ef5350"/><rect x="294.83" y="403.2" width="1.9" height="3.2" fill="#ef5350"/><rect x="297.18" y="403.2" width="1.9" height="2.2" fill="#26a69a"/><rect x="299.53" y="403.2" width="1.9" height="4.3" fill="#ef5350"/><rect x="301.87" y="407.5" width="1.9" height="4.3" fill="#ef5350"/><rect x="304.22" y="410.7" width="1.9" height="1.1" fill="#26a69a"/><rect x="306.57" y="410.7" width="1.9" height="2.2" fill="#ef5350"/><rect x="308.91" y="412.9" width="1.9" height="2.2" fill="#ef5350"/><rect x="311.26" y="414.0" width="1.9" height="2.2" fill="#ef5350"/><rect x="313.61" y="411.8" width="1.9" height="4.3" fill="#26a69a"/><rect x="315.95" y="404.3" width="1.9" height="7.5" fill="#26a69a"/><rect x="318.30" y="404.3" width="1.9" height="1.1" fill="#26a69a"/><rect x="320.65" y="403.2" width="1.9" height="1.1" fill="#26a69a"/><rect x="323.00" y="401.0" width="1.9" height="2.2" fill="#26a69a"/><rect x="325.34" y="402.1" width="1.9" height="2.2" fill="#ef5350"/><rect x="327.69" y="404.3" width="1.9" height="5.4" fill="#ef5350"/><rect x="330.04" y="407.5" width="1.9" height="2.2" fill="#26a69a"/><rect x="332.38" y="405.3" width="1.9" height="2.2" fill="#26a69a"/><rect x="334.73" y="404.3" width="1.9" height="1.1" fill="#26a69a"/><rect x="337.08" y="404.3" width="1.9" height="3.2" fill="#ef5350"/><rect x="339.42" y="406.8" width="1.9" height="0.9" fill="#26a69a"/><rect x="341.77" y="407.5" width="1.9" height="1.1" fill="#ef5350"/><rect x="344.12" y="408.6" width="1.9" height="1.1" fill="#ef5350"/><rect x="346.47" y="409.7" width="1.9" height="4.3" fill="#ef5350"/><rect x="348.81" y="412.9" width="1.9" height="1.1" fill="#26a69a"/><rect x="351.16" y="412.2" width="1.9" height="0.9" fill="#26a69a"/><rect x="353.51" y="411.8" width="1.9" height="3.2" fill="#ef5350"/><rect x="355.85" y="410.7" width="1.9" height="3.2" fill="#26a69a"/><rect x="358.20" y="409.7" width="1.9" height="1.1" fill="#26a69a"/><rect x="360.55" y="407.5" width="1.9" height="2.2" fill="#26a69a"/><rect x="362.89" y="400.0" width="1.9" height="7.5" fill="#26a69a"/><rect x="365.24" y="388.1" width="1.9" height="11.8" fill="#26a69a"/><rect x="367.59" y="387.1" width="1.9" height="5.4" fill="#26a69a"/><rect x="369.94" y="388.1" width="1.9" height="5.4" fill="#ef5350"/><rect x="372.28" y="393.5" width="1.9" height="2.2" fill="#ef5350"/><rect x="374.63" y="394.6" width="1.9" height="4.3" fill="#ef5350"/><rect x="376.98" y="398.9" width="1.9" height="6.5" fill="#ef5350"/><rect x="379.32" y="405.3" width="1.9" height="1.1" fill="#26a69a"/><rect x="381.67" y="405.1" width="1.9" height="0.9" fill="#ef5350"/><rect x="384.02" y="400.0" width="1.9" height="5.4" fill="#26a69a"/><rect x="386.36" y="393.5" width="1.9" height="6.5" fill="#26a69a"/><rect x="388.71" y="392.8" width="1.9" height="0.9" fill="#26a69a"/><rect x="391.06" y="393.5" width="1.9" height="5.4" fill="#ef5350"/><rect x="393.41" y="398.9" width="1.9" height="5.4" fill="#ef5350"/><rect x="395.75" y="404.3" width="1.9" height="1.1" fill="#ef5350"/><rect x="398.10" y="400.0" width="1.9" height="4.3" fill="#26a69a"/><rect x="400.45" y="394.6" width="1.9" height="5.4" fill="#26a69a"/><rect x="402.79" y="394.2" width="1.9" height="1.5" fill="#26a69a"/><rect x="405.14" y="394.2" width="1.9" height="1.1" fill="#ef5350"/><rect x="407.49" y="395.0" width="1.9" height="0.9" fill="#26a69a"/><rect x="409.83" y="394.6" width="1.9" height="1.1" fill="#26a69a"/><rect x="412.18" y="394.2" width="1.9" height="1.5" fill="#26a69a"/><rect x="414.53" y="392.4" width="1.9" height="1.7" fill="#26a69a"/><rect x="416.88" y="392.0" width="1.9" height="0.9" fill="#ef5350"/><rect x="419.22" y="375.2" width="1.9" height="17.2" fill="#26a69a"/><rect x="421.57" y="370.9" width="1.9" height="12.9" fill="#26a69a"/><rect x="423.92" y="367.7" width="1.9" height="3.2" fill="#26a69a"/><rect x="426.26" y="364.4" width="1.9" height="7.5" fill="#26a69a"/><rect x="428.61" y="364.4" width="1.9" height="7.5" fill="#ef5350"/><rect x="430.96" y="363.4" width="1.9" height="8.6" fill="#26a69a"/><rect x="433.30" y="363.4" width="1.9" height="7.5" fill="#ef5350"/><rect x="435.65" y="364.4" width="1.9" height="5.4" fill="#ef5350"/><rect x="438.00" y="367.7" width="1.9" height="4.3" fill="#ef5350"/><rect x="440.35" y="372.0" width="1.9" height="1.1" fill="#ef5350"/><rect x="442.69" y="373.1" width="1.9" height="1.5" fill="#ef5350"/><rect x="445.04" y="374.1" width="1.9" height="1.1" fill="#ef5350"/><rect x="447.39" y="374.4" width="1.9" height="0.9" fill="#26a69a"/><rect x="449.73" y="374.1" width="1.9" height="4.3" fill="#ef5350"/><rect x="452.08" y="378.4" width="1.9" height="5.4" fill="#ef5350"/><rect x="454.43" y="383.8" width="1.9" height="2.2" fill="#26a69a"/><rect x="456.77" y="382.7" width="1.9" height="4.3" fill="#ef5350"/><rect x="459.12" y="380.6" width="1.9" height="6.5" fill="#26a69a"/><rect x="461.47" y="377.4" width="1.9" height="3.2" fill="#26a69a"/><rect x="463.82" y="377.4" width="1.9" height="1.7" fill="#ef5350"/><rect x="466.16" y="378.4" width="1.9" height="2.2" fill="#ef5350"/><rect x="468.51" y="379.9" width="1.9" height="8.2" fill="#ef5350"/><rect x="470.86" y="388.1" width="1.9" height="4.3" fill="#ef5350"/><rect x="473.20" y="381.7" width="1.9" height="10.8" fill="#26a69a"/><rect x="475.55" y="369.8" width="1.9" height="12.9" fill="#26a69a"/><rect x="477.90" y="368.8" width="1.9" height="6.5" fill="#26a69a"/><rect x="480.24" y="345.8" width="1.9" height="25.8" fill="#26a69a"/><rect x="482.59" y="345.8" width="1.9" height="9.7" fill="#ef5350"/><rect x="484.94" y="350.1" width="1.9" height="5.4" fill="#26a69a"/><rect x="487.29" y="350.1" width="1.9" height="12.9" fill="#ef5350"/><rect x="489.63" y="363.1" width="1.9" height="8.6" fill="#ef5350"/><rect x="491.98" y="371.7" width="1.9" height="7.5" fill="#ef5350"/><rect x="494.33" y="371.7" width="1.9" height="7.5" fill="#26a69a"/><rect x="496.67" y="370.6" width="1.9" height="6.5" fill="#ef5350"/><rect x="499.02" y="377.1" width="1.9" height="2.2" fill="#ef5350"/><rect x="501.37" y="378.1" width="1.9" height="3.9" fill="#ef5350"/><rect x="503.71" y="366.3" width="1.9" height="15.7" fill="#26a69a"/><rect x="506.06" y="364.1" width="1.9" height="2.8" fill="#26a69a"/><rect x="508.41" y="355.5" width="1.9" height="10.8" fill="#26a69a"/><rect x="510.76" y="335.1" width="1.9" height="21.5" fill="#26a69a"/><rect x="513.10" y="322.2" width="1.9" height="16.1" fill="#26a69a"/><rect x="515.45" y="282.1" width="1.9" height="39.8" fill="#26a69a"/><rect x="517.80" y="256.2" width="1.9" height="26.9" fill="#26a69a"/><rect x="520.14" y="256.2" width="1.9" height="45.2" fill="#ef5350"/><rect x="522.49" y="283.1" width="1.9" height="18.3" fill="#26a69a"/><rect x="524.84" y="260.5" width="1.9" height="22.6" fill="#26a69a"/><rect x="527.18" y="260.5" width="1.9" height="29.1" fill="#ef5350"/><rect x="529.53" y="288.5" width="1.9" height="6.5" fill="#ef5350"/><rect x="531.88" y="293.9" width="1.9" height="15.1" fill="#ef5350"/><rect x="534.23" y="287.4" width="1.9" height="21.5" fill="#26a69a"/><rect x="536.57" y="287.4" width="1.9" height="8.6" fill="#ef5350"/><rect x="538.92" y="296.0" width="1.9" height="7.5" fill="#ef5350"/><rect x="541.27" y="297.1" width="1.9" height="6.5" fill="#26a69a"/><rect x="543.61" y="291.7" width="1.9" height="5.4" fill="#26a69a"/><rect x="545.96" y="278.8" width="1.9" height="12.9" fill="#26a69a"/><rect x="548.31" y="274.5" width="1.9" height="4.3" fill="#26a69a"/><rect x="550.65" y="274.5" width="1.9" height="12.9" fill="#ef5350"/><rect x="553.00" y="286.4" width="1.9" height="1.1" fill="#26a69a"/><rect x="555.35" y="259.0" width="1.9" height="27.3" fill="#26a69a"/><rect x="557.69" y="259.0" width="1.9" height="16.6" fill="#ef5350"/><rect x="560.04" y="273.4" width="1.9" height="1.1" fill="#ef5350"/><rect x="562.39" y="273.4" width="1.9" height="2.2" fill="#26a69a"/><rect x="564.74" y="272.4" width="1.9" height="1.1" fill="#26a69a"/><rect x="567.08" y="273.4" width="1.9" height="22.2" fill="#ef5350"/><rect x="569.43" y="284.2" width="1.9" height="11.4" fill="#26a69a"/><rect x="571.78" y="282.1" width="1.9" height="2.2" fill="#26a69a"/><rect x="574.12" y="271.3" width="1.9" height="11.8" fill="#26a69a"/><rect x="576.47" y="267.0" width="1.9" height="4.3" fill="#26a69a"/><rect x="578.82" y="267.0" width="1.9" height="6.5" fill="#ef5350"/><rect x="581.16" y="268.1" width="1.9" height="5.4" fill="#26a69a"/><rect x="583.51" y="262.7" width="1.9" height="5.4" fill="#26a69a"/><rect x="585.86" y="235.3" width="1.9" height="27.3" fill="#26a69a"/><rect x="588.21" y="235.3" width="1.9" height="6.9" fill="#ef5350"/><rect x="590.55" y="237.9" width="1.9" height="4.3" fill="#26a69a"/><rect x="592.90" y="237.9" width="1.9" height="7.5" fill="#ef5350"/><rect x="595.25" y="245.5" width="1.9" height="3.2" fill="#26a69a"/><rect x="597.59" y="245.5" width="1.9" height="16.1" fill="#ef5350"/><rect x="599.94" y="255.1" width="1.9" height="6.5" fill="#ef5350"/><rect x="602.29" y="255.1" width="1.9" height="20.5" fill="#ef5350"/><rect x="604.63" y="275.6" width="1.9" height="3.2" fill="#ef5350"/><rect x="606.98" y="270.2" width="1.9" height="8.6" fill="#26a69a"/><rect x="609.33" y="267.0" width="1.9" height="12.9" fill="#ef5350"/><rect x="611.68" y="277.7" width="1.9" height="2.2" fill="#26a69a"/><rect x="614.02" y="271.3" width="1.9" height="9.7" fill="#ef5350"/><rect x="616.37" y="276.7" width="1.9" height="7.5" fill="#ef5350"/><rect x="618.72" y="283.1" width="1.9" height="1.1" fill="#26a69a"/><rect x="621.06" y="276.7" width="1.9" height="6.5" fill="#26a69a"/><rect x="623.41" y="275.6" width="1.9" height="1.1" fill="#26a69a"/><rect x="625.76" y="260.5" width="1.9" height="15.1" fill="#26a69a"/><rect x="628.11" y="259.0" width="1.9" height="1.5" fill="#26a69a"/><rect x="630.45" y="259.0" width="1.9" height="5.8" fill="#ef5350"/><rect x="632.80" y="262.7" width="1.9" height="3.2" fill="#ef5350"/><rect x="635.15" y="264.8" width="1.9" height="2.2" fill="#ef5350"/><rect x="637.49" y="264.8" width="1.9" height="2.2" fill="#26a69a"/><rect x="639.84" y="264.8" width="1.9" height="16.1" fill="#ef5350"/><rect x="642.19" y="279.9" width="1.9" height="3.2" fill="#ef5350"/><rect x="644.53" y="282.1" width="1.9" height="16.1" fill="#ef5350"/><rect x="646.88" y="297.1" width="1.9" height="4.3" fill="#ef5350"/><rect x="649.23" y="300.3" width="1.9" height="17.2" fill="#ef5350"/><rect x="651.57" y="316.5" width="1.9" height="1.1" fill="#26a69a"/><rect x="653.92" y="310.0" width="1.9" height="6.5" fill="#26a69a"/><rect x="656.27" y="310.0" width="1.9" height="4.3" fill="#ef5350"/><rect x="658.62" y="312.2" width="1.9" height="2.2" fill="#26a69a"/><rect x="660.96" y="290.7" width="1.9" height="22.6" fill="#26a69a"/><rect x="663.31" y="271.3" width="1.9" height="19.4" fill="#26a69a"/><rect x="665.66" y="269.1" width="1.9" height="2.2" fill="#26a69a"/><rect x="668.00" y="264.8" width="1.9" height="5.4" fill="#26a69a"/><rect x="670.35" y="250.4" width="1.9" height="16.6" fill="#26a69a"/><rect x="672.70" y="250.4" width="1.9" height="11.2" fill="#ef5350"/><rect x="675.04" y="261.6" width="1.9" height="6.0" fill="#ef5350"/><rect x="677.39" y="250.8" width="1.9" height="16.8" fill="#26a69a"/><rect x="679.74" y="246.1" width="1.9" height="5.8" fill="#26a69a"/><rect x="682.09" y="245.5" width="1.9" height="33.4" fill="#ef5350"/><rect x="684.43" y="278.8" width="1.9" height="2.2" fill="#ef5350"/><rect x="686.78" y="279.9" width="1.9" height="3.2" fill="#ef5350"/><rect x="689.13" y="282.2" width="1.9" height="0.9" fill="#26a69a"/><rect x="691.47" y="281.0" width="1.9" height="2.2" fill="#ef5350"/><rect x="693.82" y="276.7" width="1.9" height="5.4" fill="#26a69a"/><rect x="696.17" y="257.3" width="1.9" height="19.4" fill="#26a69a"/><rect x="698.51" y="257.3" width="1.9" height="4.3" fill="#ef5350"/><rect x="700.86" y="261.6" width="1.9" height="2.2" fill="#ef5350"/><rect x="703.21" y="262.7" width="1.9" height="12.9" fill="#ef5350"/><rect x="705.56" y="269.1" width="1.9" height="6.5" fill="#26a69a"/><rect x="707.90" y="264.8" width="1.9" height="4.3" fill="#26a69a"/><rect x="710.25" y="263.8" width="1.9" height="3.2" fill="#ef5350"/><rect x="712.60" y="263.8" width="1.9" height="9.7" fill="#ef5350"/><rect x="714.94" y="269.1" width="1.9" height="4.3" fill="#26a69a"/><rect x="717.29" y="268.1" width="1.9" height="2.2" fill="#ef5350"/><rect x="719.64" y="261.5" width="1.9" height="8.6" fill="#26a69a"/><rect x="721.99" y="261.5" width="1.9" height="3.2" fill="#ef5350"/><rect x="724.33" y="263.7" width="1.9" height="6.5" fill="#ef5350"/><rect x="726.68" y="270.1" width="1.9" height="8.6" fill="#ef5350"/><rect x="729.03" y="272.3" width="1.9" height="6.5" fill="#26a69a"/><rect x="731.37" y="272.3" width="1.9" height="4.3" fill="#ef5350"/><rect x="733.72" y="275.5" width="1.9" height="2.2" fill="#ef5350"/><rect x="736.07" y="276.6" width="1.9" height="1.1" fill="#26a69a"/><rect x="738.41" y="275.5" width="1.9" height="1.1" fill="#26a69a"/><rect x="740.76" y="271.2" width="1.9" height="4.3" fill="#26a69a"/><rect x="743.11" y="271.2" width="1.9" height="21.5" fill="#ef5350"/><rect x="745.45" y="291.7" width="1.9" height="2.2" fill="#ef5350"/><rect x="747.80" y="290.6" width="1.9" height="2.2" fill="#26a69a"/><rect x="750.15" y="286.3" width="1.9" height="5.4" fill="#26a69a"/><rect x="752.50" y="275.5" width="1.9" height="14.0" fill="#26a69a"/><rect x="754.84" y="275.5" width="1.9" height="6.5" fill="#ef5350"/><rect x="757.19" y="282.0" width="1.9" height="9.7" fill="#ef5350"/><rect x="759.54" y="284.1" width="1.9" height="7.5" fill="#26a69a"/><rect x="761.88" y="282.0" width="1.9" height="3.2" fill="#26a69a"/><rect x="764.23" y="280.9" width="1.9" height="2.2" fill="#26a69a"/><rect x="766.58" y="278.8" width="1.9" height="2.2" fill="#26a69a"/><rect x="768.92" y="275.5" width="1.9" height="4.3" fill="#26a69a"/><rect x="771.27" y="275.5" width="1.9" height="6.5" fill="#ef5350"/><rect x="773.62" y="282.0" width="1.9" height="6.5" fill="#ef5350"/><rect x="775.97" y="288.4" width="1.9" height="8.6" fill="#ef5350"/><rect x="778.31" y="292.7" width="1.9" height="5.4" fill="#ef5350"/><rect x="780.66" y="292.7" width="1.9" height="5.4" fill="#26a69a"/><rect x="783.01" y="291.7" width="1.9" height="6.5" fill="#ef5350"/><rect x="785.35" y="292.7" width="1.9" height="2.2" fill="#26a69a"/><rect x="787.70" y="291.7" width="1.9" height="2.2" fill="#26a69a"/><rect x="790.05" y="292.7" width="1.9" height="1.1" fill="#ef5350"/><rect x="792.39" y="293.4" width="1.9" height="1.5" fill="#ef5350"/><rect x="794.74" y="291.2" width="1.9" height="3.7" fill="#26a69a"/><rect x="797.09" y="291.2" width="1.9" height="2.6" fill="#ef5350"/><rect x="799.44" y="292.7" width="1.9" height="2.2" fill="#ef5350"/><rect x="801.78" y="293.8" width="1.9" height="2.2" fill="#ef5350"/><rect x="804.13" y="295.5" width="1.9" height="2.6" fill="#ef5350"/><rect x="806.48" y="298.1" width="1.9" height="3.2" fill="#ef5350"/><rect x="808.82" y="297.1" width="1.9" height="4.3" fill="#26a69a"/><rect x="811.17" y="297.1" width="1.9" height="9.7" fill="#ef5350"/><rect x="813.52" y="305.7" width="1.9" height="4.3" fill="#ef5350"/><rect x="815.87" y="308.9" width="1.9" height="5.4" fill="#ef5350"/><rect x="818.21" y="314.3" width="1.9" height="9.7" fill="#ef5350"/><rect x="820.56" y="316.4" width="1.9" height="7.5" fill="#26a69a"/><rect x="822.91" y="315.3" width="1.9" height="3.2" fill="#26a69a"/><rect x="825.25" y="314.3" width="1.9" height="4.3" fill="#26a69a"/><rect x="827.60" y="314.3" width="1.9" height="4.3" fill="#ef5350"/><rect x="829.95" y="315.3" width="1.9" height="2.2" fill="#ef5350"/><rect x="832.29" y="316.4" width="1.9" height="4.3" fill="#ef5350"/><rect x="834.64" y="318.6" width="1.9" height="2.8" fill="#ef5350"/><rect x="836.99" y="320.7" width="1.9" height="1.1" fill="#ef5350"/><rect x="839.33" y="318.6" width="1.9" height="3.2" fill="#26a69a"/><rect x="841.68" y="318.6" width="1.9" height="8.6" fill="#ef5350"/><rect x="844.03" y="303.5" width="1.9" height="23.7" fill="#26a69a"/><rect x="846.38" y="303.5" width="1.9" height="1.1" fill="#ef5350"/><rect x="848.72" y="304.6" width="1.9" height="14.0" fill="#ef5350"/><rect x="851.07" y="318.6" width="1.9" height="2.2" fill="#ef5350"/><rect x="853.42" y="319.7" width="1.9" height="4.3" fill="#ef5350"/><rect x="855.76" y="315.3" width="1.9" height="8.6" fill="#26a69a"/><rect x="858.11" y="301.4" width="1.9" height="14.0" fill="#26a69a"/><rect x="860.46" y="301.4" width="1.9" height="14.0" fill="#ef5350"/><rect x="862.80" y="312.1" width="1.9" height="3.2" fill="#26a69a"/><rect x="865.15" y="312.1" width="1.9" height="8.6" fill="#ef5350"/><rect x="867.50" y="320.7" width="1.9" height="4.3" fill="#ef5350"/><rect x="869.85" y="325.0" width="1.9" height="2.2" fill="#ef5350"/><rect x="872.19" y="326.1" width="1.9" height="3.2" fill="#ef5350"/><rect x="874.54" y="328.3" width="1.9" height="6.5" fill="#ef5350"/><rect x="876.89" y="333.6" width="1.9" height="1.1" fill="#26a69a"/><rect x="879.23" y="324.0" width="1.9" height="9.7" fill="#26a69a"/><rect x="881.58" y="324.0" width="1.9" height="7.5" fill="#ef5350"/><rect x="883.93" y="330.4" width="1.9" height="4.3" fill="#ef5350"/><rect x="886.27" y="333.6" width="1.9" height="5.4" fill="#ef5350"/><rect x="888.62" y="313.2" width="1.9" height="25.8" fill="#26a69a"/><rect x="890.97" y="313.2" width="1.9" height="2.2" fill="#ef5350"/><rect x="893.32" y="314.3" width="1.9" height="5.4" fill="#ef5350"/><rect x="895.66" y="316.4" width="1.9" height="4.3" fill="#26a69a"/><rect x="898.01" y="316.4" width="1.9" height="2.2" fill="#ef5350"/><rect x="900.36" y="315.3" width="1.9" height="3.2" fill="#26a69a"/><rect x="902.70" y="315.3" width="1.9" height="6.5" fill="#ef5350"/><rect x="905.05" y="318.6" width="1.9" height="2.2" fill="#26a69a"/><rect x="907.40" y="318.6" width="1.9" height="4.3" fill="#ef5350"/><rect x="909.75" y="325.0" width="1.9" height="8.6" fill="#ef5350"/><rect x="912.09" y="332.5" width="1.9" height="6.5" fill="#ef5350"/><rect x="914.44" y="337.9" width="1.9" height="8.6" fill="#ef5350"/><rect x="916.79" y="341.1" width="1.9" height="5.4" fill="#26a69a"/><rect x="919.13" y="341.1" width="1.9" height="6.5" fill="#ef5350"/><rect x="921.48" y="346.5" width="1.9" height="3.2" fill="#ef5350"/><rect x="923.83" y="348.7" width="1.9" height="3.2" fill="#ef5350"/><rect x="926.17" y="349.8" width="1.9" height="7.5" fill="#ef5350"/><rect x="928.52" y="351.9" width="1.9" height="5.4" fill="#26a69a"/><rect x="930.87" y="351.9" width="1.9" height="2.2" fill="#ef5350"/><rect x="933.21" y="353.0" width="1.9" height="5.4" fill="#ef5350"/><rect x="935.56" y="357.3" width="1.9" height="1.1" fill="#26a69a"/><rect x="937.91" y="356.2" width="1.9" height="1.1" fill="#26a69a"/><rect x="940.26" y="356.2" width="1.9" height="7.5" fill="#ef5350"/><rect x="942.60" y="362.7" width="1.9" height="4.3" fill="#ef5350"/><rect x="944.95" y="355.1" width="1.9" height="11.8" fill="#26a69a"/><rect x="947.30" y="355.1" width="1.9" height="16.1" fill="#ef5350"/><rect x="949.64" y="370.2" width="1.9" height="1.1" fill="#26a69a"/><rect x="951.99" y="359.4" width="1.9" height="10.8" fill="#26a69a"/><rect x="954.34" y="356.2" width="1.9" height="4.3" fill="#26a69a"/><rect x="956.68" y="356.2" width="1.9" height="4.3" fill="#ef5350"/><rect x="959.03" y="360.5" width="1.9" height="10.8" fill="#ef5350"/><rect x="961.38" y="365.9" width="1.9" height="4.3" fill="#26a69a"/><rect x="963.73" y="363.8" width="1.9" height="2.2" fill="#26a69a"/><rect x="966.07" y="363.8" width="1.9" height="5.4" fill="#ef5350"/><rect x="968.42" y="369.1" width="1.9" height="8.6" fill="#ef5350"/><rect x="970.77" y="376.7" width="1.9" height="2.2" fill="#ef5350"/><rect x="973.11" y="375.6" width="1.9" height="8.6" fill="#ef5350"/><rect x="975.46" y="383.1" width="1.9" height="6.5" fill="#ef5350"/><rect x="977.81" y="385.3" width="1.9" height="4.3" fill="#26a69a"/><rect x="980.15" y="383.6" width="1.9" height="2.8" fill="#26a69a"/><rect x="982.50" y="383.6" width="1.9" height="8.2" fill="#ef5350"/><rect x="984.85" y="390.7" width="1.9" height="4.3" fill="#ef5350"/><rect x="987.20" y="393.9" width="1.9" height="6.5" fill="#ef5350"/><rect x="989.54" y="398.2" width="1.9" height="2.2" fill="#26a69a"/><rect x="991.89" y="398.2" width="1.9" height="4.3" fill="#ef5350"/><rect x="994.24" y="401.4" width="1.9" height="5.4" fill="#ef5350"/><rect x="996.58" y="405.7" width="1.9" height="5.0" fill="#ef5350"/><rect x="998.93" y="409.6" width="1.9" height="0.9" fill="#26a69a"/></g>
</svg>
<div class="abs lborder"></div>
<div class="abs" style="left:1px;top:0;width:6px;height:1.1px;background:#dcdcdf;border-radius:0 0 2px 2px;"></div>
<div class="abs bborder"></div>

<!-- right price axis -->
<div class="abs axisbg"></div>
<div class="abs axisline"></div>
<div class="pl" style="top:428.29px">0.01000</div>
<div class="pl" style="top:401.76px">0.02000</div>
<div class="pl" style="top:375.23px">0.03000</div>
<div class="pl" style="top:348.70px">0.04000</div>
<div class="pl" style="top:322.17px">0.05000</div>
<div class="pl" style="top:295.64px">0.06000</div>
<div class="pl" style="top:269.11px">0.07000</div>
<div class="pl" style="top:242.58px">0.08000</div>
<div class="pl" style="top:216.05px">0.09000</div>
<div class="pl" style="top:189.52px">0.10000</div>
<div class="pl" style="top:162.99px">0.11000</div>
<div class="pl" style="top:136.46px">0.12000</div>
<div class="pl" style="top:109.93px">0.13000</div>
<div class="pl" style="top:83.40px">0.14000</div>
<div class="pl" style="top:56.87px">0.15000</div>
<div class="pl" style="top:30.34px">0.16000</div>

<div class="abs" style="left:1098.9px;top:3.8px;width:49.5px;height:20.2px;box-sizing:border-box;border:1px solid #f0f2f6;border-radius:4px;background:#fff;"></div>
<div class="abs" style="left:1101.7px;top:8.3px;font-size:10.4px;line-height:13px;color:#131722;transform:scaleX(0.9);transform-origin:0 50%;">BTC</div>
<svg class="abs" style="left:1139.5px;top:11.5px" width="7" height="5" viewBox="0 0 7 5"><path d="M1.4 1.4 L3.2 3.1 L5 1.4" fill="none" stroke="#131722" stroke-width="1.25" stroke-linecap="round" stroke-linejoin="round"/></svg>

<!-- last price tags -->
<div class="abs tag" style="left:1052.8px;top:403.2px;width:43.3px;height:13.6px;border-radius:2.5px 0 0 2.5px;"></div>
<div class="abs" style="left:1095.1px;top:403.2px;width:1.1px;height:13.6px;background:#1f7f76;"></div>
<div class="abs tag" style="left:1096.2px;top:403.2px;width:46.3px;height:25.5px;border-radius:0 2.5px 2.5px 0;"></div>
<div class="abs" style="left:1057px;top:403.6px;font-size:10.2px;line-height:13px;color:#fff;-webkit-text-stroke:0.3px #fff;transform:scaleX(0.855);transform-origin:0 50%;">ETHBTC</div>
<div class="abs" style="left:1103.2px;top:403.6px;font-size:10.4px;line-height:13px;color:#fff;-webkit-text-stroke:0.3px #fff;transform:scaleX(0.93);transform-origin:0 50%;">0.01928</div>
<div class="abs" style="left:1103.2px;top:416.3px;font-size:10.4px;line-height:13px;color:#eefaf8;-webkit-text-stroke:0.25px #eefaf8;transform:scaleX(0.93);transform-origin:0 50%;">6d 22h</div>
<div class="abs" style="left:1149.2px;top:400.3px;width:14px;height:14px;border-radius:50%;border:1px solid #ececf0;background:#fafafb;"></div>

<!-- symbol icon -->
<svg class="abs" style="left:12px;top:4px" width="20" height="20" viewBox="0 0 20 20">
  <circle cx="11.85" cy="6.45" r="4.85" fill="#f7931a"/>
  <g transform="rotate(14 12.6 6)"><text x="12.7" y="8.3" font-family="Liberation Sans, sans-serif" font-weight="bold" font-size="6.2" fill="#fde0b5" text-anchor="middle">B</text><path d="M11.9 3.1v1M13.1 3.1v1M11.9 8.3v1M13.1 8.3v1" stroke="#fde0b5" stroke-width="0.6"/></g>
  <circle cx="6.5" cy="12.1" r="5.7" fill="#fff"/>
  <circle cx="6.5" cy="12.1" r="4.8" fill="#454c96"/>
  <path d="M6.5 8.9 L8.5 12.2 L6.5 13.3 L4.5 12.2 Z" fill="#e3e7fb"/>
  <path d="M6.5 14.0 L8.5 12.9 L6.5 15.5 L4.5 12.9 Z" fill="#b9c1ee"/>
</svg>

<!-- title -->
<div class="abs tl" style="left:30.8px;top:6.3px"><span class="cjt" style="font-size:13.6px;">以太坊</span></div>
<svg class="abs" style="left:71px;top:6px" width="9" height="16" viewBox="0 0 9 16"><path d="M6.6 1.8 L2.3 14.6" stroke="#50535e" stroke-width="1.15" fill="none"/></svg>
<div class="abs tl" style="left:78.2px;top:6.3px"><span class="cjt" style="font-size:13.5px;">比特币</span></div>
<div class="abs dot" style="left:122.3px;top:13.2px"></div>
<div class="abs tl lat" style="left:128.4px;top:5.6px;transform:scaleX(0.92);">1</div>
<div class="abs tl" style="left:134.4px;top:6.3px"><span class="cjt" style="font-size:13.6px;">周</span></div>
<div class="abs dot" style="left:152.3px;top:13.2px"></div>
<div class="abs tl lat" style="left:158.1px;top:5.6px;transform:scaleX(0.9);">BINANCE</div>

<!-- status dot -->
<div class="abs" style="left:222.3px;top:5.8px;width:15px;height:15px;border-radius:50%;background:#d3ece7;"></div>
<div class="abs" style="left:226.9px;top:10.4px;width:5.8px;height:5.8px;border-radius:50%;background:#0b9a83;"></div>

<!-- OHLC legend -->
<div class="abs ohlc" style="left:250.8px"><span class="cjt">开</span>=<b>0.01907</b></div>
<div class="abs ohlc" style="left:310.7px"><span class="cjt">高</span>=<b>0.01929</b></div>
<div class="abs ohlc" style="left:371.4px"><span class="cjt">低</span>=<b>0.01906</b></div>
<div class="abs ohlc" style="left:431.6px"><span class="cjt">收</span>=<b>0.01928</b></div>
<div class="abs ohlc" style="left:492.4px"><b>+0.00021</b></div>
<div class="abs ohlc" style="left:539.8px"><b>(+1.10%)</b></div>

<!-- sell / buy -->
<div class="abs box" style="left:12.2px;top:26.4px;width:57px;height:28.4px;border-color:#f6757e;color:#f23645;">
  <div class="v">0.01927</div><div class="t cjt">卖出</div>
</div>
<div class="abs" style="left:76.2px;top:35.6px;font-size:7.9px;line-height:10px;color:#131722;-webkit-text-stroke:0.25px #131722;">0.00001</div>
<div class="abs box" style="left:112px;top:26.4px;width:56.4px;height:28.4px;border-color:#6c8fff;color:#2962ff;">
  <div class="v">0.01928</div><div class="t cjt">买入</div>
</div>

<!-- TradingView logo -->
<svg class="abs" style="left:14px;top:434px" width="30" height="18" viewBox="0 0 30 18">
  <path d="M2 3 H11.5 V15.3 H6.7 V7.8 H2 Z" fill="#131722"/>
  <circle cx="15.7" cy="5.1" r="2.05" fill="#131722"/>
  <path d="M20.3 3 H26.4 L22.4 15.3 H16.3 Z" fill="#131722"/>
</svg>
<div class="abs" style="left:47.3px;top:433.2px;font-size:16.4px;line-height:20px;font-weight:bold;color:#131722;letter-spacing:-0.1px;transform:scaleX(1.05);transform-origin:0 50%;">TradingView</div>

<!-- lightning icon -->
<svg class="abs" style="left:990px;top:440px" width="20" height="20" viewBox="0 0 20 20">
  <circle cx="9.9" cy="9.9" r="8.1" fill="#fff" stroke="#9c27b0" stroke-width="1.3"/>
  <path d="M12.9 5.6 L7.0 10.6 L9.0 10.7 L6.9 14.4 L13.0 9.4 L10.9 9.3 Z" fill="#9c27b0"/>
</svg>
</body>
</html>
